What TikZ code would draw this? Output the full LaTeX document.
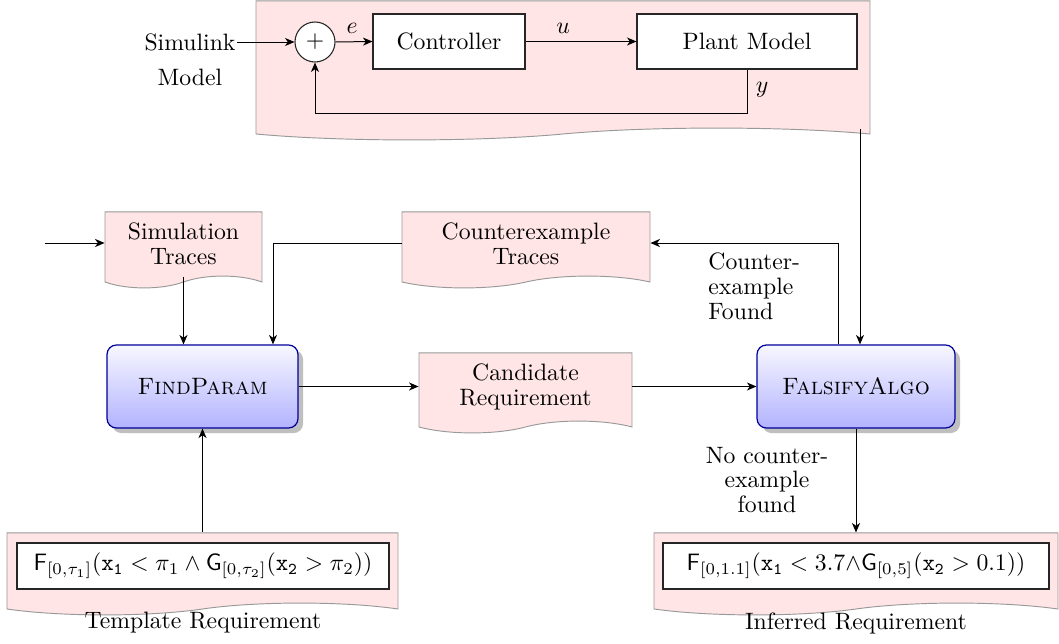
\documentclass[tikz,border=0pt]{standalone}
\usetikzlibrary{shapes.symbols,shadows,arrows.meta,calc}
\newcommand\pxu{0.422pt}
\begin{document}
\begin{tikzpicture}[x=0.422pt,y=-0.422pt,
  doc/.style={shape=tape, tape bend top=none, draw=black!40, fill=red!10, align=center, inner sep=0pt},
  blk/.style={draw=black!85, fill=white, line width=0.45pt},
  proc/.style={draw=blue!60!black, line width=0.5pt, rounded corners=4pt, top color=blue!3, bottom color=blue!30, drop shadow},
  arr/.style={-{Stealth[length=4pt,width=3.4pt,inset=1.2pt]}, line width=0.42pt},
  ln/.style={line width=0.42pt}]
\useasboundingbox (0,0) rectangle (1059,644);
% top model
\node[doc, minimum width=614*\pxu, minimum height=139*\pxu] (top) at (563,64.5) {};
\node[circle, blk, minimum size=40*\pxu, inner sep=0pt] (sum) at (315,42) {$+$};
\node[blk, minimum width=152*\pxu, minimum height=55*\pxu] (ctrl) at (449,41.5) {Controller};
\node[blk, minimum width=220*\pxu, minimum height=55*\pxu] (plant) at (747,41.5) {Plant Model};
\node[align=center] (simlbl) at (190,60) {Simulink\\[2.8pt]Model};
\coordinate (simin) at (237,42);
\coordinate (fb) at (748,113);
\draw[arr] (simin) -- (sum.west);
\draw[arr] (sum.east) -- node[above, pos=0.45] (elbl) {$e$} (ctrl.west);
\draw[arr] (ctrl.east) -- node[above, pos=0.34] (ulbl) {$u$} (plant.west);
\draw[arr] (plant.south) -- (plant.south |- fb) -| (sum.south);
\node (ylbl) at (762,90) {$y$};
% documents
\node[doc, minimum width=157*\pxu, minimum height=76*\pxu] (simtr) at (183.5,244) {Simulation\\[-1.5pt]Traces};
\node[doc, minimum width=248*\pxu, minimum height=76*\pxu] (cet) at (526,244) {Counterexample\\[-1.5pt]Traces};
\node[doc, minimum width=213*\pxu, minimum height=80*\pxu] (cand) at (525.5,387) {Candidate\\[-1.5pt]Requirement};
\node[doc, minimum width=391*\pxu, minimum height=82*\pxu] (tmpl) at (202.5,568) {};
\node[doc, minimum width=404*\pxu, minimum height=82*\pxu] (inf) at (856,568) {};
\node[blk, minimum width=372*\pxu, minimum height=46*\pxu, inner sep=0pt] (tform) at (203,566)
  {$\mathsf{F}_{[0,\tau_1]}(\mathtt{x_1} < \pi_1 \wedge \mathsf{G}_{[0,\tau_2]}(\mathtt{x_2} > \pi_2))$};
\node[blk, minimum width=386*\pxu, minimum height=46*\pxu, inner sep=0pt] (iform) at (856,566)
  {$\mathsf{F}_{[0,1.1]}(\mathtt{x_1} < 3.7{\wedge}\mathsf{G}_{[0,5]}(\mathtt{x_2} > 0.1))$};
\node (tlbl) at (203,623) {Template Requirement};
\node (ilbl) at (856,623) {Inferred Requirement};
% processes
\node[proc, minimum width=191*\pxu, minimum height=83*\pxu] (fp) at (202.5,386.5) {\textsc{FindParam}};
\node[proc, minimum width=198*\pxu, minimum height=83*\pxu] (fa) at (856,386.5) {\textsc{FalsifyAlgo}};
% connectors
\coordinate (in) at (45,243);
\coordinate (j1) at (273,0);
\coordinate (drop) at (860,0);
\draw[arr] (in) -- (in -| simtr.west);
\draw[arr] (simtr.south) -- (simtr.south |- fp.north);
\draw[arr] (cet.west |- in) -| (j1 |- fp.north);
\draw[arr] (drop |- top.south) -- (drop |- fa.north);
\draw[arr] ([xshift=-18*\pxu]fa.north) |- (cet.east |- in);
\draw[arr] (fp.east) -- (fp.east -| cand.west);
\draw[arr] (fa.west -| cand.east) -- (fa.west);
\draw[arr] (fa.south) -- (inf.north);
\draw[arr] (tmpl.north) -- (fp.south);
\node[align=left, anchor=west, inner sep=0pt] (cfl) at (708,286) {Counter-\\[-1.5pt]example\\[-1.5pt]Found};
\node[align=center] (ncf) at (767,480) {No counter-\\[-1.5pt]example\\[-1.5pt]found};
\end{tikzpicture}
\end{document}
